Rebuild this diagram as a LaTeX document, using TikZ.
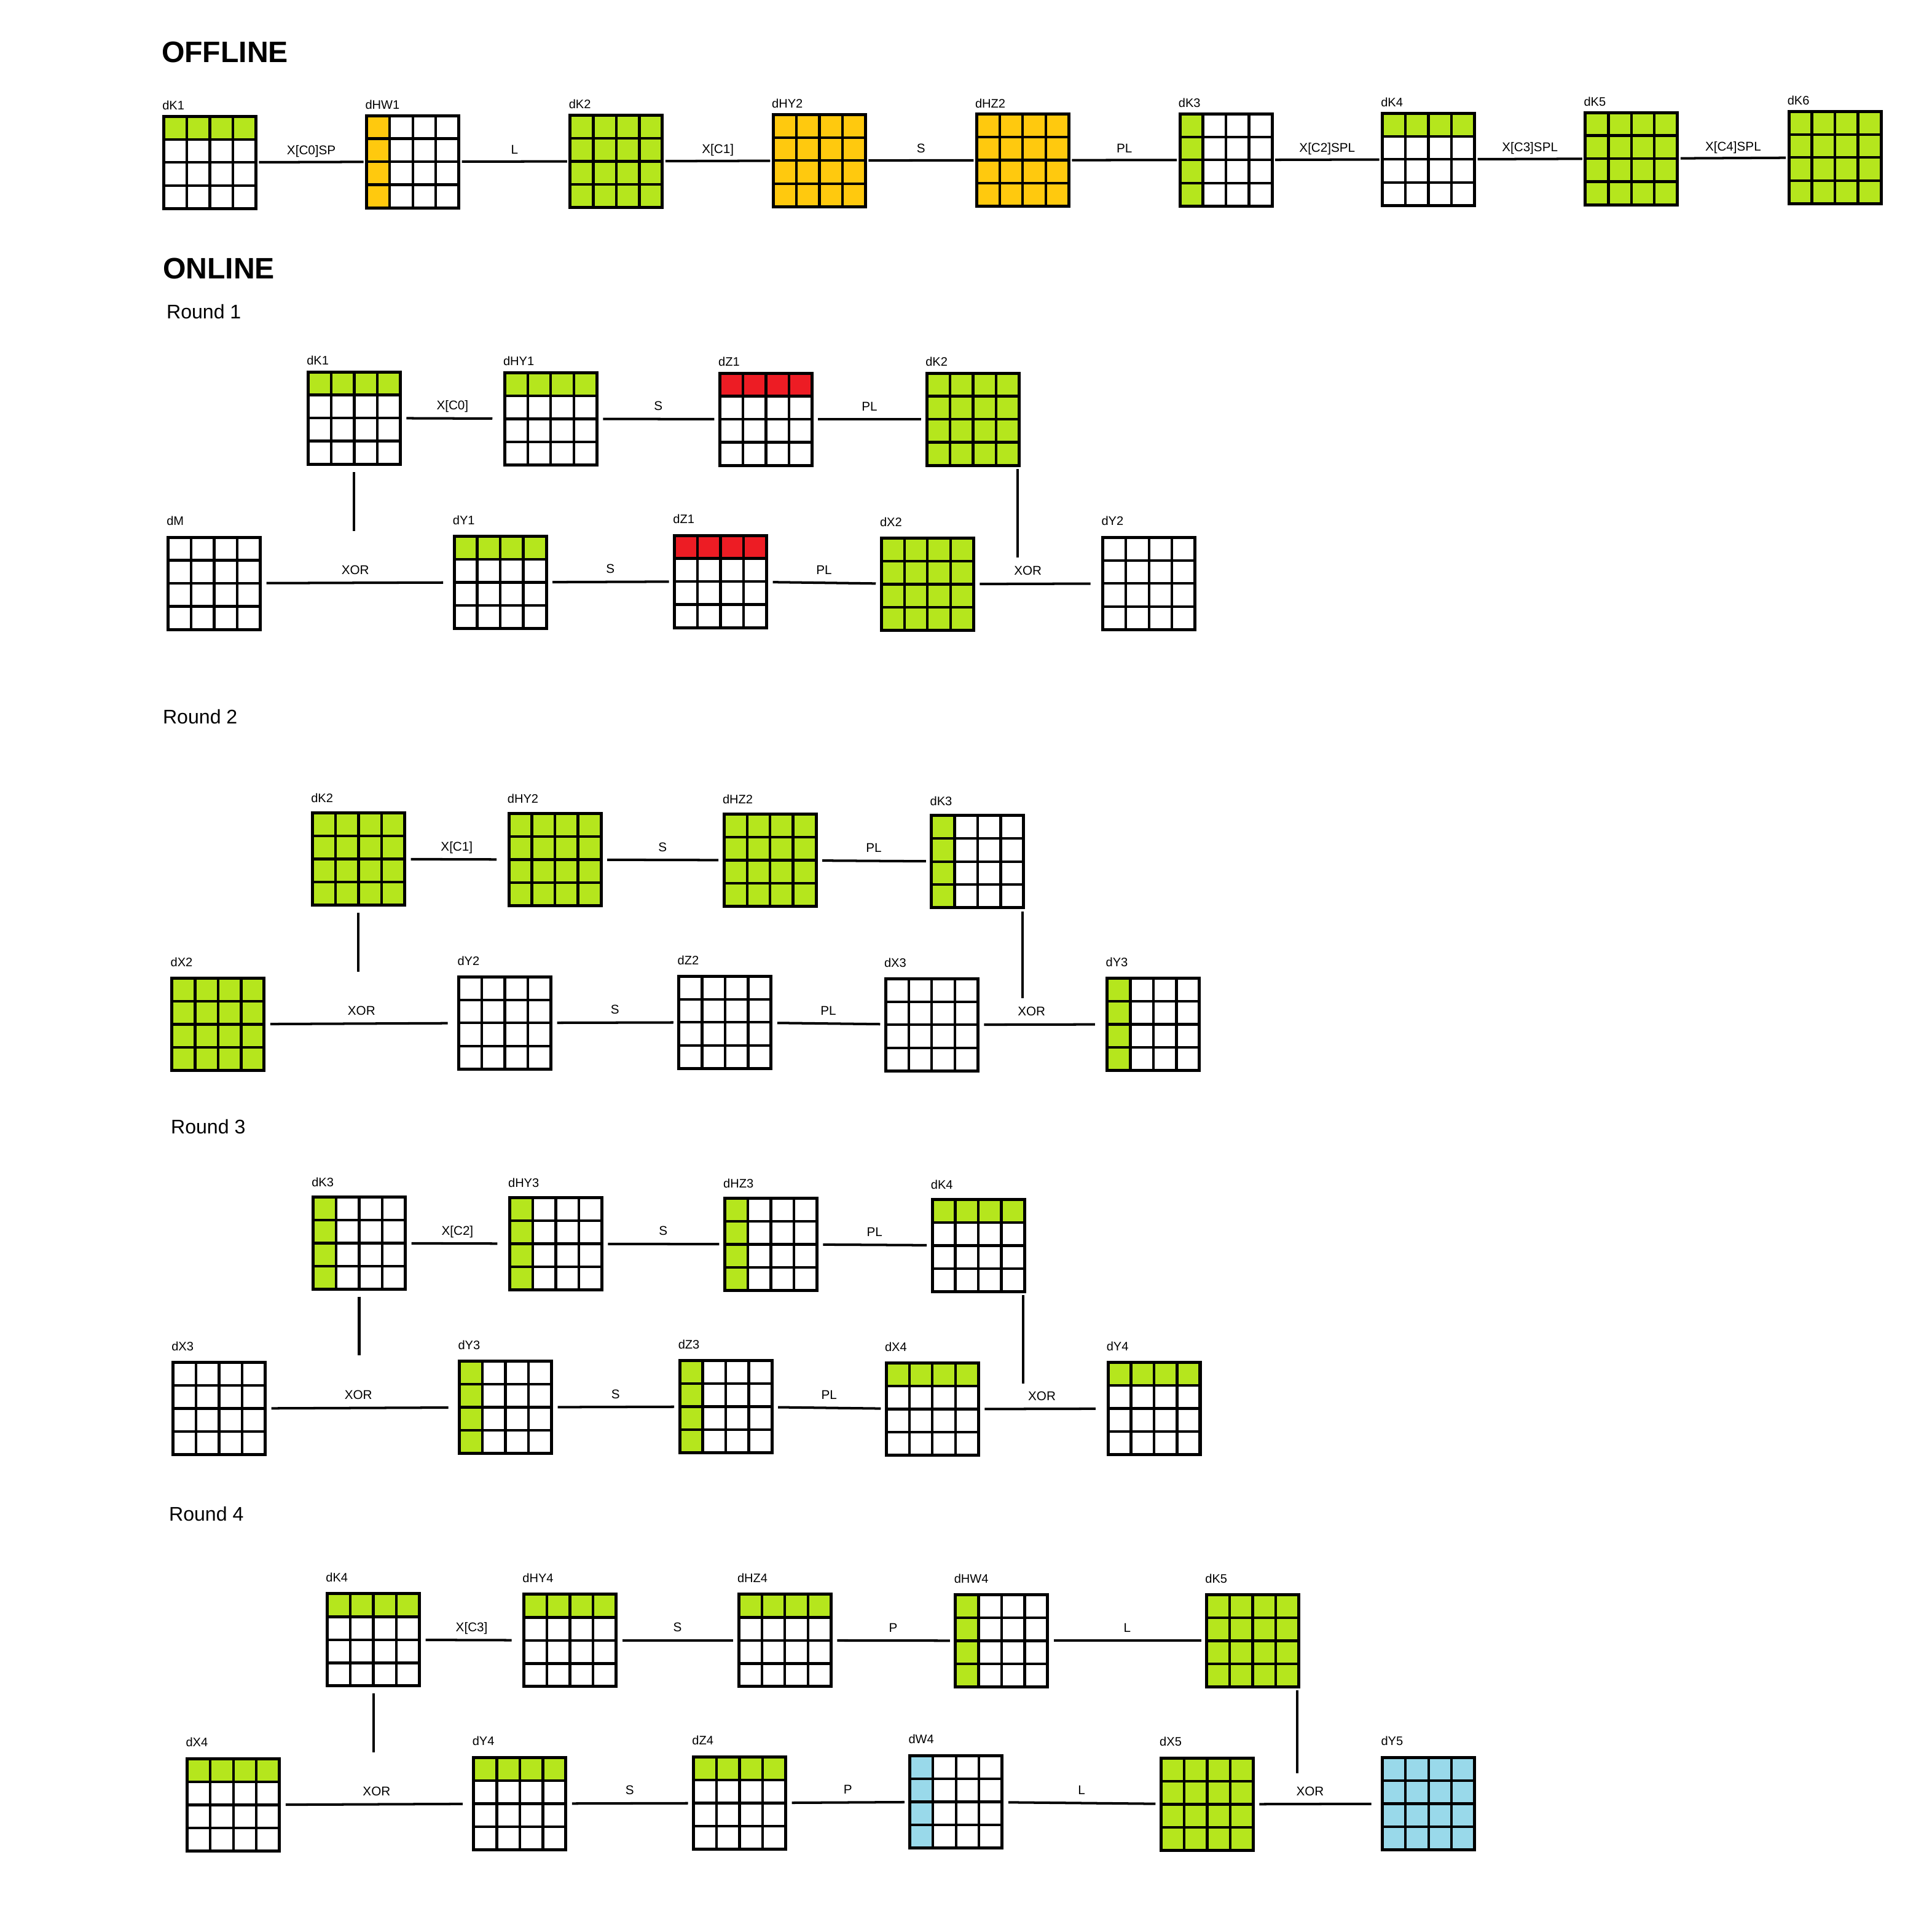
\documentclass[tikz,border=0pt]{standalone}
\usepackage{fontspec}
\setmainfont{Liberation Sans}
\definecolor{kgreen}{HTML}{B5E61D}
\definecolor{korange}{HTML}{FFC90E}
\definecolor{kred}{HTML}{ED1C24}
\definecolor{kblue}{HTML}{99D9EA}
\newcommand{\matcells}[3]{%
    \fill[#1] (path picture bounding box.north west) rectangle ([xshift=#2, yshift=-#3]path picture bounding box.north west);
    \foreach \s in {18.7pt, 37.4pt, 56.1pt} {
        \draw[line width=2.2pt] ([xshift=\s]path picture bounding box.north west) -- ([xshift=\s]path picture bounding box.south west);
        \draw[line width=2.2pt] ([yshift=-\s]path picture bounding box.north west) -- ([yshift=-\s]path picture bounding box.north east);
    }}
\tikzset{
    blk/.style={draw, line width=2.5pt, minimum size=74.8pt, inner sep=0pt, outer sep=0pt},
    whitecells/.style={blk, path picture={\matcells{white}{0pt}{0pt}}},
    toprow/.style={blk, path picture={\matcells{#1}{74.8pt}{18.7pt}}},
    leftcol/.style={blk, path picture={\matcells{#1}{18.7pt}{74.8pt}}},
    allcells/.style={blk, path picture={\matcells{#1}{74.8pt}{74.8pt}}},
    lbl/.style={font=\fontsize{10}{12}\selectfont, anchor=south west, inner sep=0pt, xshift=-1.3pt, yshift=#1},
    lbl/.default=5pt,
    optext/.style={font=\fontsize{10.3}{12}\selectfont, inner sep=0pt, text depth=0pt},
    op/.style={optext, above=6pt},
    oop/.style={optext, above=5pt},
    link/.style={line width=2pt, shorten <=5pt, shorten >=4.5pt},
    olink/.style={line width=2pt, shorten <=2.5pt, shorten >=2.5pt},
    vline/.style={line width=2pt},
    heading/.style={font=\fontsize{24}{28}\selectfont\bfseries, anchor=base west, inner sep=0pt},
    roundlbl/.style={font=\fontsize{16}{19}\selectfont, anchor=base west, inner sep=0pt}
}
\begin{document}
\begin{tikzpicture}[x=1pt, y=-1pt]
            \useasboundingbox (0, 0) rectangle (1568, 1566);
            \node[heading] (OFF) at (131, 50.7) {OFFLINE};
            \node[toprow=kgreen, label={[lbl]north west:dK1}] (OK1) at (170.3, 131.8) {};
            \node[leftcol=korange, label={[lbl]north west:dHW1}] (OHW1) at (335, 131.2) {};
            \node[allcells=kgreen, label={[lbl]north west:dK2}] (OK2) at (500.2, 130.9) {};
            \node[allcells=korange, label={[lbl]north west:dHY2}] (OHY2) at (665, 130.3) {};
            \node[allcells=korange, label={[lbl]north west:dHZ2}] (OHZ2) at (830, 130) {};
            \node[leftcol=kgreen, label={[lbl]north west:dK3}] (OK3) at (995, 129.8) {};
            \node[toprow=kgreen, label={[lbl]north west:dK4}] (OK4) at (1159.3, 129.3) {};
            \node[allcells=kgreen, label={[lbl]north west:dK5}] (OK5) at (1324, 128.7) {};
            \node[allcells=kgreen, label={[lbl]north west:dK6}] (OK6) at (1489.2, 127.8) {};
            
            \draw[olink] (OK1) -- node[oop] {X[C0]SP} (OHW1);
            \draw[olink] (OHW1) -- node[oop] {L} (OK2);
            \draw[olink] (OK2) -- node[oop] {X[C1]} (OHY2);
            \draw[olink] (OHY2) -- node[oop] {S} (OHZ2);
            \draw[olink] (OHZ2) -- node[oop] {PL} (OK3);
            \draw[olink] (OK3) -- node[oop] {X[C2]SPL} (OK4);
            \draw[olink] (OK4) -- node[oop] {X[C3]SPL} (OK5);
            \draw[olink] (OK5) -- node[oop] {X[C4]SPL} (OK6);
            
            \node[heading] (ON) at (132, 226) {ONLINE};
            \node[roundlbl] (R1) at (135, 258.5) {Round 1};
            \node[toprow=kgreen, label={[lbl=5.5pt]north west:dK1}] (T1K1) at (287.5, 339.2) {};
            \node[toprow=kgreen, label={[lbl=5.5pt]north west:dHY1}] (T1HY1) at (447, 339.8) {};
            \node[toprow=kred, label={[lbl=5.5pt]north west:dZ1}] (T1Z1) at (621.6, 340.2) {};
            \node[allcells=kgreen, label={[lbl=5.5pt]north west:dK2}] (T1K2) at (789.7, 340.2) {};
            \node[whitecells, label={[lbl=9.3pt]north west:dM}] (B1M) at (173.8, 473.3) {};
            \node[toprow=kgreen, label={[lbl=9.3pt]north west:dY1}] (B1Y1) at (406, 472.5) {};
            \node[toprow=kred, label={[lbl=9.3pt]north west:dZ1}] (B1Z1) at (584.8, 471.8) {};
            \node[allcells=kgreen, label={[lbl=9.3pt]north west:dX2}] (B1X2) at (752.7, 474) {};
            \node[whitecells, label={[lbl=9.3pt]north west:dY2}] (B1Y2) at (932.5, 473.4) {};
            
            \draw[link, shorten >=10pt] (T1K1) -- node[op] {X[C0]} (T1HY1);
            \draw[link] (T1HY1) -- node[op] {S} (T1Z1);
            \draw[link] (T1Z1) -- node[op] {PL} (T1K2);
            \draw[link, shorten >=9pt] (B1M) -- node[op, pos=0.49] (B1XL) {XOR} (B1Y1);
            \draw[link] (B1Y1) -- node[op] {S} (B1Z1);
            \draw[link] (B1Z1) -- node[op] {PL} (B1X2);
            \draw[link, shorten >=10pt] (B1X2) -- node[op, pos=0.42] (B1XR) {XOR} (B1Y2);
            \draw[vline, shorten <=6.5pt, shorten >=27pt] (T1K1) -- (T1K1 |- B1XL.north);
            \draw[vline, shorten <=3pt, shorten >=6pt] ([xshift=-1pt]T1K2.south east) -- ([xshift=-1pt]T1K2.south east |- B1XR.north);
            
            \node[roundlbl] (R2) at (132, 587.3) {Round 2};
            \node[allcells=kgreen, label={[lbl=8pt]north west:dK2}] (T2K2) at (291, 697) {};
            \node[allcells=kgreen, label={[lbl=8pt]north west:dHY2}] (T2HY2) at (450.4, 697.5) {};
            \node[allcells=kgreen, label={[lbl=8pt]north west:dHZ2}] (T2HZ2) at (625, 698) {};
            \node[leftcol=kgreen, label={[lbl=8pt]north west:dK3}] (T2K3) at (793.4, 699.1) {};
            \node[allcells=kgreen, label={[lbl=9.3pt]north west:dX2}] (B2X2) at (177, 831.1) {};
            \node[whitecells, label={[lbl=9.3pt]north west:dY2}] (B2Y2) at (409.8, 830) {};
            \node[whitecells, label={[lbl=9.3pt]north west:dZ2}] (B2Z2) at (588.4, 829.5) {};
            \node[whitecells, label={[lbl=9.3pt]north west:dX3}] (B2X3) at (756.2, 831.5) {};
            \node[leftcol=kgreen, label={[lbl=9.3pt]north west:dY3}] (B2Y3) at (936, 831.1) {};
            
            \draw[link, shorten >=10pt] (T2K2) -- node[op] {X[C1]} (T2HY2);
            \draw[link] (T2HY2) -- node[op] {S} (T2HZ2);
            \draw[link] (T2HZ2) -- node[op] {PL} (T2K3);
            \draw[link, shorten >=9pt] (B2X2) -- node[op] (B2XL) {XOR} (B2Y2);
            \draw[link] (B2Y2) -- node[op] {S} (B2Z2);
            \draw[link] (B2Z2) -- node[op] {PL} (B2X3);
            \draw[link, shorten >=10pt] (B2X3) -- node[op, pos=0.415] (B2XR) {XOR} (B2Y3);
            \draw[vline, shorten <=6pt, shorten >=27pt] (T2K2) -- (T2K2 |- B2XL.north);
            \draw[vline, shorten <=3pt, shorten >=6pt] ([xshift=-1pt]T2K3.south east) -- ([xshift=-1pt]T2K3.south east |- B2XR.north);
            
            \node[roundlbl] (R3) at (138.5, 919.7) {Round 3};
            \node[leftcol=kgreen, label={[lbl=8pt]north west:dK3}] (T3K3) at (291.5, 1008.7) {};
            \node[leftcol=kgreen, label={[lbl=8pt]north west:dHY3}] (T3HY3) at (451, 1009.2) {};
            \node[leftcol=kgreen, label={[lbl=8pt]north west:dHZ3}] (T3HZ3) at (625.6, 1009.6) {};
            \node[toprow=kgreen, label={[lbl=8pt]north west:dK4}] (T3K4) at (794, 1010.6) {};
            \node[whitecells, label={[lbl=9.3pt]north west:dX3}] (B3X3) at (177.8, 1142.9) {};
            \node[leftcol=kgreen, label={[lbl=9.3pt]north west:dY3}] (B3Y3) at (410.3, 1141.9) {};
            \node[leftcol=kgreen, label={[lbl=9.3pt]north west:dZ3}] (B3Z3) at (589, 1141.3) {};
            \node[toprow=kgreen, label={[lbl=9.3pt]north west:dX4}] (B3X4) at (756.7, 1143.4) {};
            \node[toprow=kgreen, label={[lbl=9.3pt]north west:dY4}] (B3Y4) at (936.6, 1142.9) {};
            
            \draw[link, shorten >=10pt] (T3K3) -- node[op] {X[C2]} (T3HY3);
            \draw[link] (T3HY3) -- node[op] {S} (T3HZ3);
            \draw[link] (T3HZ3) -- node[op] {PL} (T3K4);
            \draw[link, shorten >=9pt] (B3X3) -- node[op, pos=0.48] (B3XL) {XOR} (B3Y3);
            \draw[link] (B3Y3) -- node[op] {S} (B3Z3);
            \draw[link] (B3Z3) -- node[op] {PL} (B3X4);
            \draw[link, shorten >=10pt] (B3X4) -- node[op, pos=0.49] (B3XR) {XOR} (B3Y4);
            \draw[vline, shorten <=6pt, shorten >=27.5pt] (T3K3) -- (T3K3 |- B3XL.north);
            \draw[vline, shorten <=3pt, shorten >=5.5pt] ([xshift=-1pt]T3K4.south east) -- ([xshift=-1pt]T3K4.south east |- B3XR.north);
            
            \node[roundlbl] (R4) at (137, 1234) {Round 4};
            \node[toprow=kgreen, label={[lbl=9.2pt]north west:dK4}] (T4K4) at (303, 1330.5) {};
            \node[toprow=kgreen, label={[lbl=9.2pt]north west:dHY4}] (T4HY4) at (462.6, 1331) {};
            \node[toprow=kgreen, label={[lbl=9.2pt]north west:dHZ4}] (T4HZ4) at (637, 1331) {};
            \node[leftcol=kgreen, label={[lbl=9.2pt]north west:dHW4}] (T4HW4) at (812.9, 1331.3) {};
            \node[allcells=kgreen, label={[lbl=9.2pt]north west:dK5}] (T4K5) at (1016.7, 1331.3) {};
            \node[toprow=kgreen, label={[lbl=9.5pt]north west:dX4}] (B4X4) at (189.4, 1464.5) {};
            \node[toprow=kgreen, label={[lbl=9.5pt]north west:dY4}] (B4Y4) at (421.9, 1463.5) {};
            \node[toprow=kgreen, label={[lbl=9.5pt]north west:dZ4}] (B4Z4) at (600.3, 1463) {};
            \node[leftcol=kblue, label={[lbl=9.5pt]north west:dW4}] (B4W4) at (775.9, 1462) {};
            \node[allcells=kgreen, label={[lbl=9.5pt]north west:dX5}] (B4X5) at (979.7, 1464) {};
            \node[allcells=kblue, label={[lbl=9.5pt]north west:dY5}] (B4Y5) at (1159.4, 1463.5) {};
            
            \draw[link, shorten >=10pt] (T4K4) -- node[op] {X[C3]} (T4HY4);
            \draw[link] (T4HY4) -- node[op] {S} (T4HZ4);
            \draw[link] (T4HZ4) -- node[op] {P} (T4HW4);
            \draw[link] (T4HW4) -- node[op] {L} (T4K5);
            \draw[link, shorten >=9pt] (B4X4) -- node[op] (B4XL) {XOR} (B4Y4);
            \draw[link] (B4Y4) -- node[op] {S} (B4Z4);
            \draw[link] (B4Z4) -- node[op] {P} (B4W4);
            \draw[link] (B4W4) -- node[op] {L} (B4X5);
            \draw[link, shorten >=9pt] (B4X5) -- node[op, pos=0.44] (B4XR) {XOR} (B4Y5);
            \draw[vline, shorten <=6pt, shorten >=27pt] (T4K4) -- (T4K4 |- B4XL.north);
            \draw[vline, shorten <=3pt, shorten >=10pt] ([xshift=-1.2pt]T4K5.south east) -- ([xshift=-1.2pt]T4K5.south east |- B4XR.north);
\end{tikzpicture}
\end{document}
